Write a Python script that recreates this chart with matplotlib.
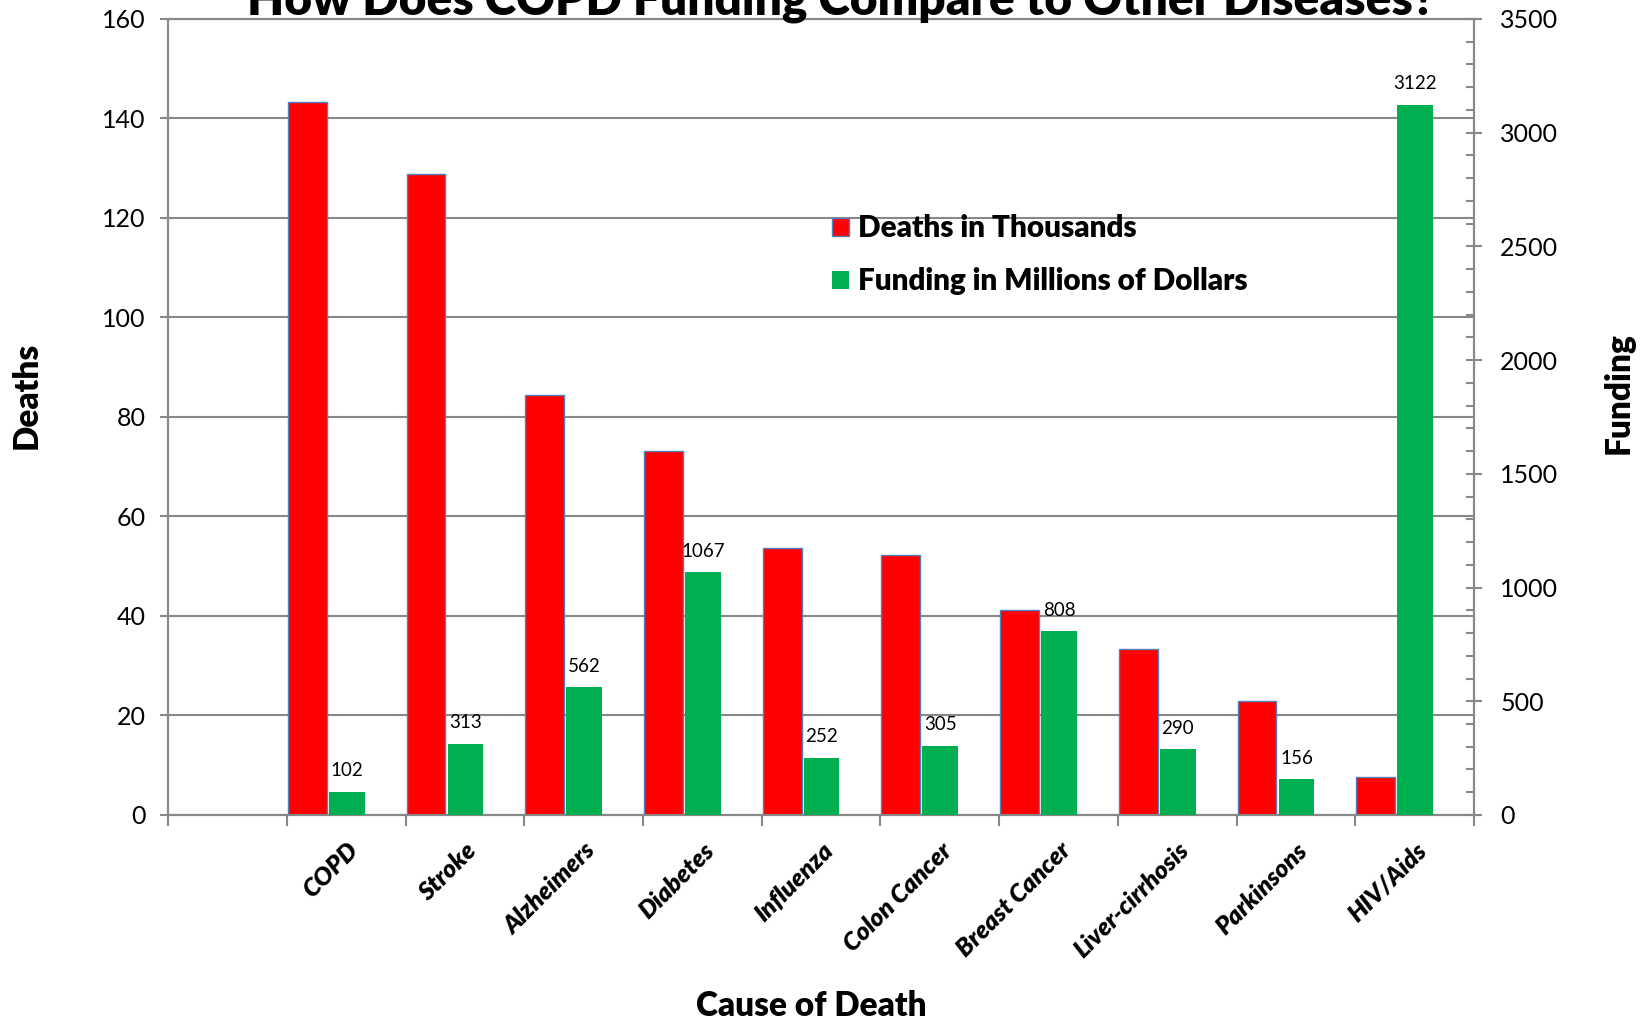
import matplotlib
matplotlib.use("Agg")
import matplotlib.pyplot as plt
from matplotlib.ticker import MultipleLocator, FixedLocator, NullFormatter
from matplotlib.patches import Patch
import numpy as np

plt.rcParams['font.family'] = ['Lato', 'DejaVu Sans']

categories = ["COPD", "Stroke", "Alzheimers", "Diabetes", "Influenza",
              "Colon Cancer", "Breast Cancer", "Liver-cirrhosis", "Parkinsons", "HIV/Aids"]
deaths = [143.3, 128.9, 84.5, 73.1, 53.7, 52.2, 41.2, 33.4, 23.0, 7.6]
funding = [102, 313, 562, 1067, 252, 305, 808, 290, 156, 3122]

RED = "#FF0000"
GREEN = "#00B050"
GRAY = "#888888"
BOLD = 'heavy'

fig = plt.figure(figsize=(16.48, 10.25), dpi=100)
ax = fig.add_axes([0.102, 0.2049, 0.7924, 0.7766])
ax2 = ax.twinx()

n = len(categories)
slots = np.arange(n) + 1  # first slot left empty
ax.bar(slots + 0.009, deaths, width=0.327, align='edge', color=RED,
       edgecolor="#4F81BD", linewidth=1.0, zorder=3)
gb = ax2.bar(slots + 0.354, funding, width=0.301, align='edge', color=GREEN,
             edgecolor='none', zorder=3)
ax2.bar_label(gb, labels=[str(v) for v in funding], padding=9, fontsize=13.5)

ax.set_xlim(0, n + 1)
ax.set_ylim(0, 160)
ax2.set_ylim(0, 3500)

ax.yaxis.set_major_locator(MultipleLocator(20))
ax.grid(axis='y', color=GRAY, linewidth=1.5, zorder=0)
ax.set_axisbelow(True)
ax2.yaxis.set_major_locator(MultipleLocator(500))
ax2.yaxis.set_minor_locator(MultipleLocator(100))

ax.xaxis.set_major_locator(FixedLocator(np.arange(n + 2)))
ax.xaxis.set_major_formatter(NullFormatter())
ax.set_xticks(slots + 0.5, minor=True)
ax.set_xticklabels(categories, minor=True, rotation=45, ha='right', va='top',
                   rotation_mode='anchor', fontsize=18, fontweight=BOLD, fontstyle='italic')
ax.tick_params(axis='x', which='major', direction='out', length=8, width=1.5, color=GRAY)
ax.tick_params(axis='x', which='minor', length=0, pad=17)
ax.tick_params(axis='y', which='major', direction='out', length=6, width=1.5, color=GRAY,
               labelsize=18, pad=10)
ax2.tick_params(axis='y', which='major', direction='inout', length=12, width=1.5, color=GRAY,
                labelsize=18, pad=13)
ax2.tick_params(axis='y', which='minor', direction='in', length=6, width=1.5, color=GRAY)

for a in (ax, ax2):
    for s in a.spines.values():
        s.set_color(GRAY)
        s.set_linewidth(1.5)

ax.set_ylabel("Deaths", fontsize=24, fontweight=BOLD)
ax.yaxis.set_label_coords(-0.1087, 0.5276)
ax.yaxis.label.set_va('center')
ax2.set_ylabel("Funding", fontsize=24, fontweight=BOLD)
ax2.yaxis.set_label_coords(1.111, 0.5306)
ax2.yaxis.label.set_va('center')
ax2.yaxis.label.set_rotation(90)
ax.set_xlabel("Cause of Death", fontsize=24, fontweight=BOLD)
ax.xaxis.set_label_coords(0.4923, -0.24)
ax.xaxis.label.set_va('center')

fig.text(0.5103, 0.9863, "How Does COPD Funding Compare to Other Diseases?",
         ha='center', va='baseline', fontsize=34.5, fontweight=BOLD)

handles = [Patch(facecolor=RED, edgecolor="#4F81BD", linewidth=1.0),
           Patch(facecolor=GREEN, edgecolor='none')]
leg = ax2.legend(handles, ["Deaths in Thousands", "Funding in Millions of Dollars"],
                 loc='upper left', bbox_to_anchor=(0.5049, 0.791),
                 bbox_transform=fig.transFigure, frameon=False,
                 prop={'size': 21.3, 'weight': BOLD}, handlelength=0.56, handleheight=0.56,
                 handletextpad=0.33, labelspacing=0.85, borderpad=0, borderaxespad=0)

fig.savefig("out.png", dpi=100)
